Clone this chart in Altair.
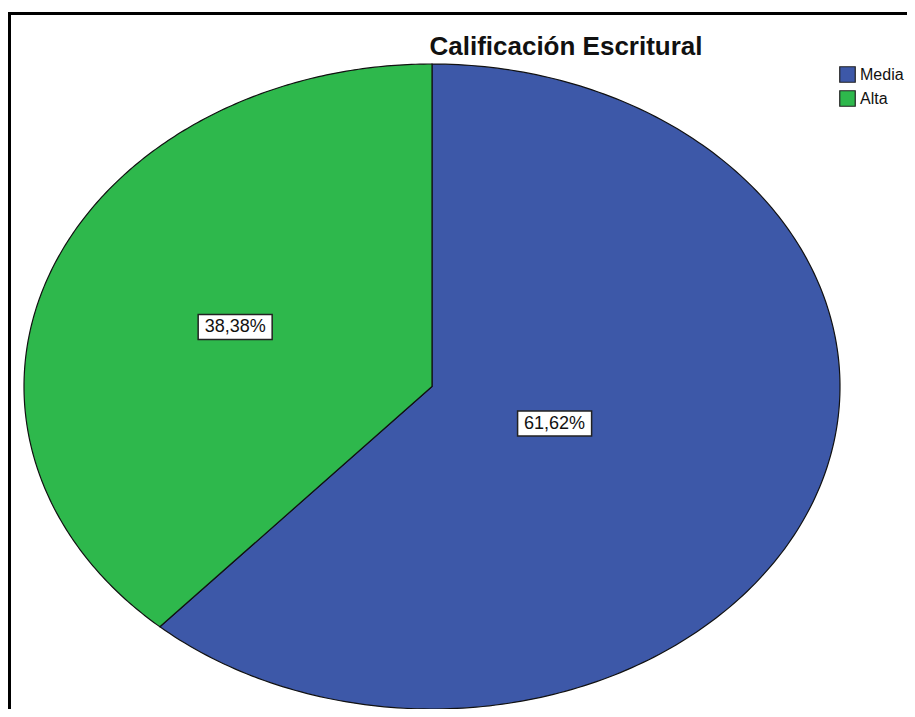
import altair as alt
import pandas as pd

title_text = "Calificación Escritural"
categories = ["Media", "Alta"]
percentages = [61.62, 38.38]
colors = ["#3d58a8", "#2eb84c"]

df = pd.DataFrame({"categoria": categories, "valor": percentages, "orden": list(range(len(categories)))})
df_title = pd.DataFrame({"titulo": [title_text]})

N = 240
color_scale = alt.Scale(domain=categories, range=colors)

base = alt.Chart(df).transform_joinaggregate(
    total="sum(valor)"
).transform_window(
    cum="sum(valor)", sort=[alt.SortField("orden")], frame=[None, 0]
).transform_calculate(
    a0="(datum.cum - datum.valor) / datum.total * 2 * PI",
    a1="datum.cum / datum.total * 2 * PI",
)

xs = alt.Scale(domain=[-1, 1], nice=False, zero=False)
ys = alt.Scale(domain=[-1, 1], nice=False, zero=False)

wedges = base.transform_calculate(
    k=f"sequence(-1, {N + 1})"
).transform_flatten(["k"]).transform_calculate(
    ang=f"datum.a0 + (datum.a1 - datum.a0) * datum.k / {N}",
    px="datum.k < 0 ? 0 : sin(datum.ang)",
    py="datum.k < 0 ? 0 : cos(datum.ang)",
).mark_line(
    interpolate="linear-closed", filled=True, stroke="#111111", strokeWidth=1.2
).encode(
    x=alt.X("px:Q", scale=xs, axis=None),
    y=alt.Y("py:Q", scale=ys, axis=None),
    order=alt.Order("k:Q"),
    color=alt.Color(
        "categoria:N", scale=color_scale, sort=categories,
        legend=alt.Legend(
            title=None, orient="none", legendX=815, legendY=2,
            symbolType="square", symbolSize=240, symbolStrokeColor="#222222",
            symbolStrokeWidth=1.2, labelFont="Liberation Sans", labelFontSize=16,
            labelColor="#111111", rowPadding=3, labelOffset=4,
        ),
    ),
    detail="categoria:N",
)

labels_base = base.transform_calculate(
    mid="(datum.a0 + datum.a1) / 2",
    half="(datum.a1 - datum.a0) / 2",
).transform_calculate(
    rr="2 * sin(datum.half) / (3 * datum.half)",
).transform_calculate(
    lx="datum.rr * sin(datum.mid)",
    ly="datum.rr * cos(datum.mid)",
    etiqueta="replace(format(datum.valor, '.2f'), '.', ',') + '%'",
)

boxes = labels_base.mark_rect(
    width=74, height=25, fill="white", stroke="#222222", strokeWidth=1.5
).encode(
    x=alt.X("lx:Q", scale=xs, axis=None),
    y=alt.Y("ly:Q", scale=ys, axis=None),
)

texts = labels_base.mark_text(
    font="Liberation Sans", fontSize=18, color="#111111", baseline="middle", align="center"
).encode(
    x=alt.X("lx:Q", scale=xs, axis=None),
    y=alt.Y("ly:Q", scale=ys, axis=None),
    text="etiqueta:N",
)

title = alt.Chart(df_title).mark_text(
    font="Liberation Sans", fontSize=26, fontWeight="bold", color="#111111",
    align="center", baseline="alphabetic",
).encode(
    x=alt.value(542), y=alt.value(-9), text="titulo:N"
)

frame = alt.Chart(df_title).mark_rect(fill="transparent", stroke="black", strokeWidth=3).encode(
    x=alt.value(-14.5), x2=alt.value(1000), y=alt.value(-50.5), y2=alt.value(800)
)

chart = alt.layer(frame, wedges, boxes, texts, title).properties(
    width=816,
    height=645,
    autosize=alt.AutoSizeParams(type="none"),
    padding={"left": 16, "top": 56, "right": 67, "bottom": 0},
).configure_view(stroke=None)

chart.save("out.html", embed_options={"renderer": "svg", "actions": False})
